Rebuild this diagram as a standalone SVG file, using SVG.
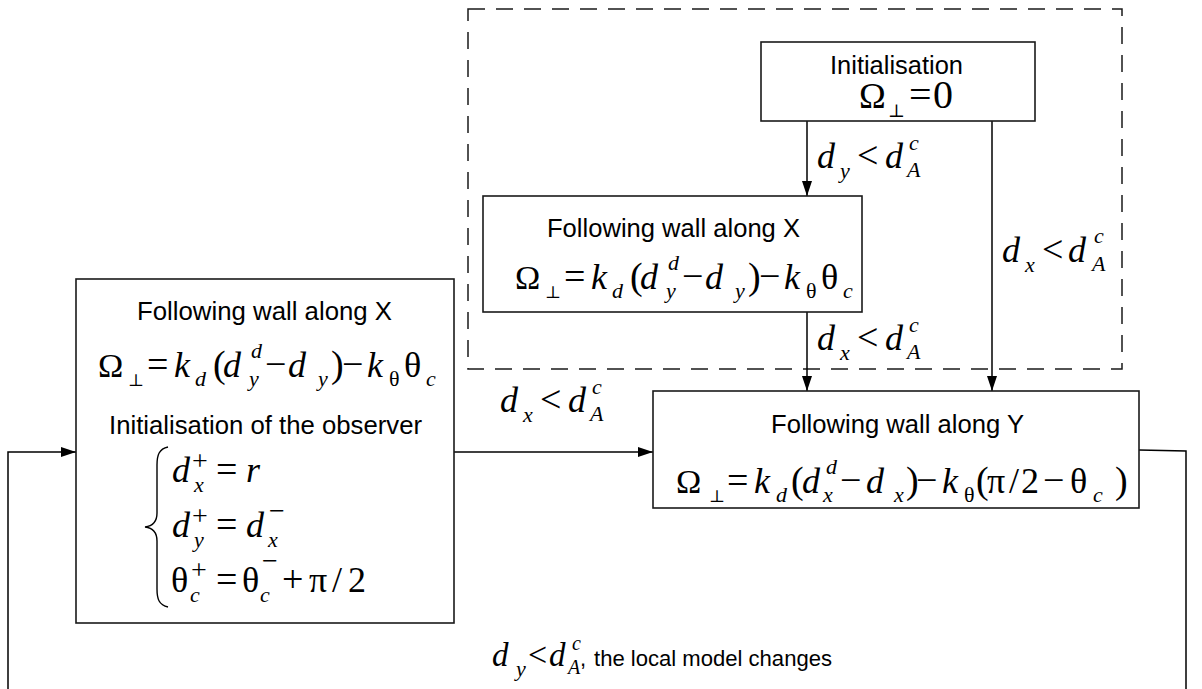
<svg xmlns="http://www.w3.org/2000/svg" width="1202" height="689" viewBox="0 0 1202 689">
<defs>
<style>
.box{fill:#fff;stroke:#1a1a1a;stroke-width:1.6}
.ln{fill:none;stroke:#000;stroke-width:1.5}
.dash{fill:none;stroke:#1a1a1a;stroke-width:1.5;stroke-dasharray:17 11}
.t{font-family:"Liberation Sans",Arial,sans-serif;font-size:25px;text-anchor:middle;fill:#000}
.m{font-family:"Liberation Serif","Times New Roman",serif;font-size:36px;fill:#000}
.i{font-style:italic}
.s{font-size:22px}
.op{font-size:38px}
.par{font-size:38px}
.om{font-size:34px}
.perp{font-family:"DejaVu Serif","Liberation Serif",serif;font-size:17px}
.sup{font-size:28px}
</style>
<marker id="arr" markerUnits="userSpaceOnUse" markerWidth="15" markerHeight="10" refX="15" refY="5" orient="auto">
<path d="M0,0 L15,5 L0,10 z" fill="#000"/>
</marker>
</defs>
<rect width="1202" height="689" fill="#fff"/>

<g id="frame">
<rect class="dash" x="468" y="9" width="654" height="360"/>
</g>

<g id="connectors">
<path class="ln" d="M807,121 V196" marker-end="url(#arr)"/>
<path class="ln" d="M992,121 V391" marker-end="url(#arr)"/>
<path class="ln" d="M807,312 V391" marker-end="url(#arr)"/>
<path class="ln" d="M454,452 H653" marker-end="url(#arr)"/>
<path class="ln" d="M1139,450 L1186,451 V700 H8 V452 H76" marker-end="url(#arr)"/>

<text class="m"><tspan class="i" x="817" y="168">d</tspan><tspan class="i s" x="840" y="178">y</tspan><tspan class="op" x="857" y="168">&lt;</tspan><tspan class="i" x="885" y="168">d</tspan><tspan class="i s" x="909" y="150">c</tspan><tspan class="i s" x="907" y="177">A</tspan></text>

<text class="m"><tspan class="i" x="1002" y="262">d</tspan><tspan class="i s" x="1025" y="272">x</tspan><tspan class="op" x="1042" y="262">&lt;</tspan><tspan class="i" x="1068" y="262">d</tspan><tspan class="i s" x="1094" y="243">c</tspan><tspan class="i s" x="1092" y="271">A</tspan></text>

<text class="m"><tspan class="i" x="817" y="350">d</tspan><tspan class="i s" x="840" y="360">x</tspan><tspan class="op" x="857" y="350">&lt;</tspan><tspan class="i" x="885" y="350">d</tspan><tspan class="i s" x="909" y="332">c</tspan><tspan class="i s" x="907" y="359">A</tspan></text>

<text class="m"><tspan class="i" x="500" y="412">d</tspan><tspan class="i s" x="523" y="422">x</tspan><tspan class="op" x="540" y="412">&lt;</tspan><tspan class="i" x="568" y="412">d</tspan><tspan class="i s" x="592" y="394">c</tspan><tspan class="i s" x="590" y="421">A</tspan></text>

<text class="m" style="font-size:33px"><tspan class="i" x="492" y="666">d</tspan><tspan class="i s" x="516" y="676">y</tspan><tspan class="op" style="font-size:34px" x="528" y="666">&lt;</tspan><tspan class="i" x="549" y="666">d</tspan><tspan class="i s" style="font-size:20px" x="572" y="650">c</tspan><tspan class="i s" style="font-size:20px" x="568" y="674">A</tspan></text>
<text class="t" style="font-size:22px;text-anchor:start" x="580" y="666">,</text>
<text class="t" style="font-size:22px;text-anchor:start" x="594" y="666" textLength="238" lengthAdjust="spacingAndGlyphs">the local model changes</text>
</g>

<g id="init">
<rect class="box" x="761" y="42" width="274" height="79"/>
<text class="t" x="896.5" y="74" textLength="133" lengthAdjust="spacingAndGlyphs">Initialisation</text>
<g transform="translate(859,108)">
<text class="m"><tspan x="0" y="0" style="font-size:36px">Ω</tspan><tspan class="perp" x="29" y="9" style="font-size:18px">⊥</tspan><tspan x="50" y="0" style="font-size:40px">=</tspan><tspan x="74" y="0" style="font-size:40px">0</tspan></text>
</g>
</g>

<g id="wallX-inner">
<rect class="box" x="483" y="196" width="379" height="116"/>
<text class="t" x="673.5" y="237" textLength="253" lengthAdjust="spacingAndGlyphs">Following wall along X</text>
<g transform="translate(515,289)">
<text class="m"><tspan class="om" x="0" y="0">Ω</tspan><tspan class="perp" x="30" y="9">⊥</tspan><tspan class="op" x="49" y="0">=</tspan><tspan class="i" x="76" y="0">k</tspan><tspan class="i s" x="97" y="9">d</tspan><tspan class="par" x="115" y="0">(</tspan><tspan class="i" x="125" y="0">d</tspan><tspan class="i s" x="153" y="-19">d</tspan><tspan class="i s" x="151" y="9">y</tspan><tspan class="op" x="167" y="0">−</tspan><tspan class="i" x="190" y="0">d</tspan><tspan class="i s" x="220" y="9">y</tspan><tspan class="par" x="233" y="0">)</tspan><tspan class="op" x="244" y="0">−</tspan><tspan class="i" x="269" y="0">k</tspan><tspan class="s" x="291" y="9">θ</tspan><tspan x="306" y="0">θ</tspan><tspan class="i s" x="328" y="9">c</tspan></text>
</g>
</g>

<g id="wallX-outer">
<rect class="box" x="76" y="279" width="378" height="344"/>
<text class="t" x="264.5" y="320" textLength="255" lengthAdjust="spacingAndGlyphs">Following wall along X</text>
<g transform="translate(98,377)">
<text class="m"><tspan class="om" x="0" y="0">Ω</tspan><tspan class="perp" x="30" y="9">⊥</tspan><tspan class="op" x="49" y="0">=</tspan><tspan class="i" x="76" y="0">k</tspan><tspan class="i s" x="97" y="9">d</tspan><tspan class="par" x="115" y="0">(</tspan><tspan class="i" x="125" y="0">d</tspan><tspan class="i s" x="153" y="-19">d</tspan><tspan class="i s" x="151" y="9">y</tspan><tspan class="op" x="167" y="0">−</tspan><tspan class="i" x="190" y="0">d</tspan><tspan class="i s" x="220" y="9">y</tspan><tspan class="par" x="233" y="0">)</tspan><tspan class="op" x="244" y="0">−</tspan><tspan class="i" x="269" y="0">k</tspan><tspan class="s" x="291" y="9">θ</tspan><tspan x="306" y="0">θ</tspan><tspan class="i s" x="328" y="9">c</tspan></text>
</g>
<text class="t" x="265.5" y="434" textLength="313" lengthAdjust="spacingAndGlyphs">Initialisation of the observer</text>
<path d="M168,447 C159,449 157,455 157,465 L157,513 C157,522 153,526 145,527 C153,528 157,532 157,541 L157,589 C157,599 159,605 168,607" fill="none" stroke="#000" stroke-width="1.4"/>
<text class="m"><tspan class="i" x="172" y="482">d</tspan><tspan class="sup" x="192" y="470">+</tspan><tspan class="i s" x="194" y="492">x</tspan><tspan class="op" x="216" y="482">=</tspan><tspan class="i" x="246" y="482">r</tspan></text>
<text class="m"><tspan class="i" x="172" y="537">d</tspan><tspan class="sup" x="192" y="525">+</tspan><tspan class="i s" x="194" y="547">y</tspan><tspan class="op" x="216" y="537">=</tspan><tspan class="i" x="246" y="537">d</tspan><tspan class="sup" x="269" y="520">−</tspan><tspan class="i s" x="268" y="547">x</tspan></text>
<text class="m"><tspan x="171" y="592">θ</tspan><tspan class="sup" x="191" y="579">+</tspan><tspan class="i s" x="190" y="602">c</tspan><tspan class="op" x="216" y="592">=</tspan><tspan x="242" y="592">θ</tspan><tspan class="sup" x="262" y="570">−</tspan><tspan class="i s" x="260" y="602">c</tspan><tspan class="op" x="282" y="592">+</tspan><tspan x="309" y="592">π</tspan><tspan x="332" y="592">/</tspan><tspan x="348" y="592">2</tspan></text>
</g>

<g id="wallY">
<rect class="box" x="653" y="391" width="486" height="117"/>
<text class="t" x="897.5" y="433" textLength="253" lengthAdjust="spacingAndGlyphs">Following wall along Y</text>
<g transform="translate(676,493)">
<text class="m"><tspan class="om" x="0" y="0">Ω</tspan><tspan class="perp" x="33" y="9">⊥</tspan><tspan class="op" x="51" y="0">=</tspan><tspan class="i" x="78" y="0">k</tspan><tspan class="i s" x="100" y="9">d</tspan><tspan class="par" x="115" y="0">(</tspan><tspan class="i" x="126" y="0">d</tspan><tspan class="i s" x="150" y="-19">d</tspan><tspan class="i s" x="147" y="9">x</tspan><tspan class="op" x="164" y="0">−</tspan><tspan class="i" x="190" y="0">d</tspan><tspan class="i s" x="218" y="9">x</tspan><tspan class="par" x="230" y="0">)</tspan><tspan class="op" x="240" y="0">−</tspan><tspan class="i" x="266" y="0">k</tspan><tspan class="s" x="288" y="9">θ</tspan><tspan class="par" x="300" y="0">(</tspan><tspan x="311" y="0">π</tspan><tspan x="333" y="0">/</tspan><tspan x="345" y="0">2</tspan><tspan class="op" x="367" y="0">−</tspan><tspan x="394" y="0">θ</tspan><tspan class="i s" x="417" y="9">c</tspan><tspan class="par" x="439" y="0">)</tspan></text>
</g>
</g>
</svg>
